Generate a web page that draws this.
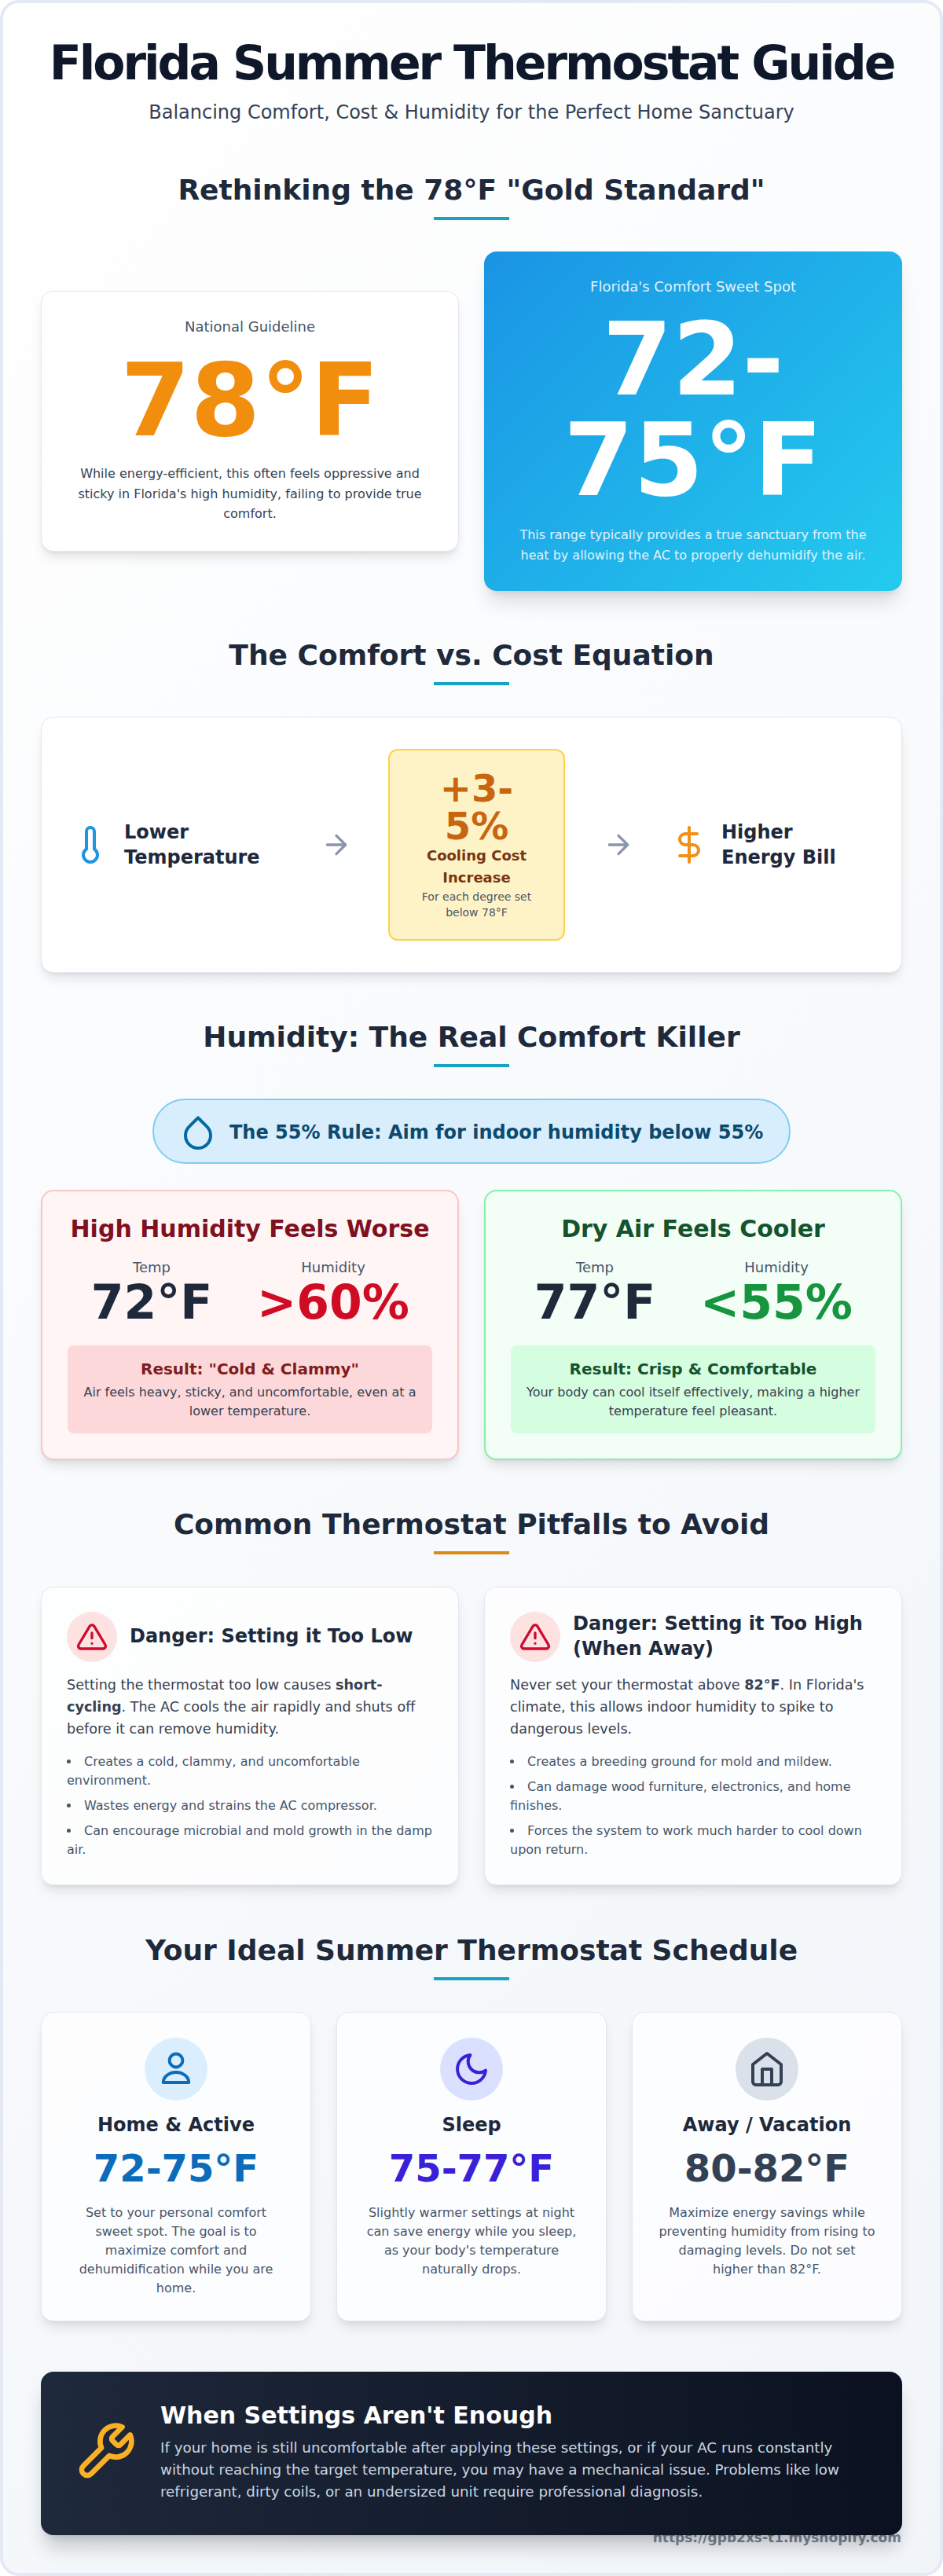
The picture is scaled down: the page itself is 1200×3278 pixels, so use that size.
<!DOCTYPE html>
<html lang="en">
<head>
<meta charset="utf-8">
<title>Florida Summer Thermostat Guide</title>
<script src="https://cdn.jsdelivr.net/npm/chart.js@4"></script>
<style>
	html, body { margin: 0; padding: 0; }
	body { position: relative; width: 1200px; height: 3278px; overflow: hidden; background: #fff; font-family: "DejaVu Sans", sans-serif; color: #1e293b; }
	#page { position: absolute; left: 0; top: 0; width: 1200px; height: 3278px; box-sizing: border-box; border: 4px solid #e3eaf4; border-radius: 24px; background: linear-gradient(135deg, #ffffff 0%, #f1f5f9 100%); }
	.abs { position: absolute; box-sizing: border-box; }
	h1, h2, h3, h4, p, ul { margin: 0; padding: 0; }
	h1 { position: absolute; left: 0; width: 1200px; top: 44px; text-align: center; font-size: 60px; line-height: 72px; letter-spacing: -3px; color: #0f172a; }
	.sub { position: absolute; left: 0; width: 1200px; top: 128px; text-align: center; font-size: 24px; line-height: 30px; color: #334155; }
	.h2 { position: absolute; left: 0; width: 1200px; text-align: center; font-size: 36px; line-height: 44px; font-weight: bold; color: #1e293b; }
	.bar { position: absolute; left: 552px; width: 96px; height: 4px; background: #16a3c4; }
	.card { position: absolute; box-sizing: border-box; background: rgba(255,255,255,.7); border: 1px solid #e2e8f0; border-radius: 16px; box-shadow: 0 10px 15px -3px rgba(0,0,0,.1), 0 4px 6px -4px rgba(0,0,0,.1); }
	.ctr { text-align: center; }
	svg { position: absolute; fill: none; stroke-width: 2; stroke-linecap: round; stroke-linejoin: round; }
	.label { font-size: 18px; line-height: 28px; }
	.huge { font-size: 128px; line-height: 128px; font-weight: bold; }
	.body16 { font-size: 16px; line-height: 25.6px; }
	.eq { font-size: 24px; line-height: 32px; font-weight: bold; position: absolute; }
	.stat { position: absolute; width: 232px; text-align: center; }
	.stat .t { font-size: 18px; line-height: 28px; color: #475569; }
	.stat .v { font-size: 60px; line-height: 60px; font-weight: bold; }
	.res { position: absolute; left: 32px; top: 196px; width: 464px; height: 112px; border-radius: 8px; text-align: center; padding-top: 16px; box-sizing: border-box; }
	.res h4 { font-size: 20px; line-height: 28px; margin-bottom: 4px; }
	.res p { font-size: 16px; line-height: 24px; color: #374151; }
	.circle { position: absolute; border-radius: 50%; }
	.pit h3 { position: absolute; left: 112px; font-size: 24px; line-height: 32px; color: #1e293b; width: 390px; }
	.pit p { position: absolute; left: 32px; top: 110px; width: 470px; font-size: 17.6px; line-height: 28px; color: #374151; }
	.pit ul { position: absolute; left: 32px; top: 210px; width: 470px; list-style: inside disc; font-size: 16px; line-height: 24px; color: #475569; }
	.pit li { margin-bottom: 8px; }
	.sch h3 { position: absolute; left: 0; width: 342px; top: 127px; text-align: center; font-size: 24px; line-height: 32px; }
	.sch .v { position: absolute; left: 0; width: 342px; top: 174px; text-align: center; font-size: 48px; line-height: 48px; font-weight: bold; }
	.sch p { position: absolute; left: 32px; width: 278px; top: 243px; text-align: center; font-size: 16px; line-height: 24px; color: #475569; }
</style>
</head>
<body>
<div id="page"></div>
<div id="root"></div>
<script>
	'use strict';

	// The reference is a text infographic with no plotted marks, so Chart.js is
	// loaded but no Chart instance is created; the page is built from these lists.

	/* ---------- Data ---------- */

	var TITLE = 'Florida Summer Thermostat Guide';
	var SUBTITLE = 'Balancing Comfort, Cost & Humidity for the Perfect Home Sanctuary';
	var SECTIONS = ['Rethinking the 78°F "Gold Standard"', 'The Comfort vs. Cost Equation', 'Humidity: The Real Comfort Killer', 'Common Thermostat Pitfalls to Avoid', 'Your Ideal Summer Thermostat Schedule'];
	var SECTION_TOPS = [220, 812, 1298, 1918, 2460];
	var BAR_TOPS = [276, 868, 1354, 1974, 2516];
	var BAR_COLORS = ['#16a3c4', '#16a3c4', '#16a3c4', '#dd8a14', '#16a3c4'];

	var COMPARE_LABELS = ['National Guideline', "Florida's Comfort Sweet Spot"];
	var COMPARE_VALUES = ['78°F', '72-75°F'];
	var COMPARE_TEXT = [
		"While energy-efficient, this often feels oppressive and sticky in Florida's high humidity, failing to provide true comfort.",
		'This range typically provides a true sanctuary from the heat by allowing the AC to properly dehumidify the air.',
	];

	var EQ_LEFT = ['Lower', 'Temperature'];
	var EQ_RIGHT = ['Higher', 'Energy Bill'];
	var EQ_VALUE = '+3-5%';
	var EQ_LABEL = 'Cooling Cost Increase';
	var EQ_NOTE = 'For each degree set below 78°F';

	var RULE = 'The 55% Rule: Aim for indoor humidity below 55%';
	var HUM_TITLES = ['High Humidity Feels Worse', 'Dry Air Feels Cooler'];
	var HUM_TEMPS = ['72°F', '77°F'];
	var HUM_LEVELS = ['>60%', '<55%'];
	var HUM_RESULTS = ['Result: "Cold & Clammy"', 'Result: Crisp & Comfortable'];
	var HUM_NOTES = ['Air feels heavy, sticky, and uncomfortable, even at a lower temperature.', 'Your body can cool itself effectively, making a higher temperature feel pleasant.'];

	var PIT_TITLES = ['Danger: Setting it Too Low', 'Danger: Setting it Too High (When Away)'];
	var PIT_TEXT = [
		'Setting the thermostat too low causes <b>short-cycling</b>. The AC cools the air rapidly and shuts off before it can remove humidity.',
		"Never set your thermostat above <b>82°F</b>. In Florida's climate, this allows indoor humidity to spike to dangerous levels.",
	];
	var PIT_LIST_LOW = ['Creates a cold, clammy, and uncomfortable environment.', 'Wastes energy and strains the AC compressor.', 'Can encourage microbial and mold growth in the damp air.'];
	var PIT_LIST_HIGH = ['Creates a breeding ground for mold and mildew.', 'Can damage wood furniture, electronics, and home finishes.', 'Forces the system to work much harder to cool down upon return.'];

	var SCHED_NAMES = ['Home & Active', 'Sleep', 'Away / Vacation'];
	var SCHED_TEMPS = ['72-75°F', '75-77°F', '80-82°F'];
	var SCHED_TEXT = [
		'Set to your personal comfort sweet spot. The goal is to maximize comfort and dehumidification while you are home.',
		"Slightly warmer settings at night can save energy while you sleep, as your body's temperature naturally drops.",
		'Maximize energy savings while preventing humidity from rising to damaging levels. Do not set higher than 82°F.',
	];

	var HELP_TITLE = "When Settings Aren't Enough";
	var HELP_TEXT = 'If your home is still uncomfortable after applying these settings, or if your AC runs constantly without reaching the target temperature, you may have a mechanical issue. Problems like low refrigerant, dirty coils, or an undersized unit require professional diagnosis.';
	var SOURCE_URL = 'https://gpb2xs-t1.myshopify.com';

	/* ---------- Icons ---------- */

	var ICONS = {
		thermo: '<path d="M14 14.76V3.5a2.5 2.5 0 0 0-5 0v11.26a4.5 4.5 0 1 0 5 0z"/>',
		arrow: '<path d="M5 12h14M12 5l7 7-7 7"/>',
		dollar: '<path d="M12 1v22M17 5H9.5a3.5 3.5 0 0 0 0 7h5a3.5 3.5 0 0 1 0 7H6"/>',
		drop: '<path d="M12 2.69l5.66 5.66a8 8 0 1 1-11.31 0z"/>',
		alert: '<path d="M10.29 3.86L1.82 18a2 2 0 0 0 1.71 3h16.94a2 2 0 0 0 1.71-3L13.71 3.86a2 2 0 0 0-3.42 0zM12 9v4M12 17h.01"/>',
		user: '<circle cx="12" cy="6.5" r="4.2"/><path d="M3.9 20.5a8.1 6.5 0 0 1 16.2 0z"/>',
		moon: '<path d="M21 12.79A9 9 0 1 1 11.21 3 7 7 0 0 0 21 12.79z"/>',
		home: '<path d="M3 9l9-7 9 7v11a2 2 0 0 1-2 2H5a2 2 0 0 1-2-2zM9 22V12h6v10"/>',
		tool: '<path d="M14.7 6.3a1 1 0 0 0 0 1.4l1.6 1.6a1 1 0 0 0 1.4 0l3.77-3.77a6 6 0 0 1-7.94 7.94l-6.91 6.91a2.12 2.12 0 0 1-3-3l6.91-6.91a6 6 0 0 1 7.94-7.94l-3.76 3.76z"/>',
	};

	function icon(name, x, y, size, color) {
		return '<svg style="left:' + x + 'px;top:' + y + 'px" width="' + size + '" height="' + size + '" viewBox="0 0 24 24" stroke="' + color + '">' + ICONS[name] + '</svg>';
	}

	function esc(s) {
		return s.replace(/&/g, '&amp;').replace(/</g, '&lt;').replace(/>/g, '&gt;');
	}

	/* ---------- Sections ---------- */

	function head() {
		var html = '<h1>' + TITLE + '</h1><div class="sub">' + esc(SUBTITLE) + '</div>';
		SECTIONS.forEach(function (s, i) {
			html += '<div class="h2" style="top:' + SECTION_TOPS[i] + 'px">' + s + '</div>';
			html += '<div class="bar" style="top:' + BAR_TOPS[i] + 'px;background:' + BAR_COLORS[i] + '"></div>';
		});
		return html;
	}

	function compare() {
		return '<div class="card ctr" style="left:52px;top:370px;width:532px;height:332px;background:#fff">' +
			'<div class="abs label" style="left:0;width:530px;top:31px;color:#475569">' + COMPARE_LABELS[0] + '</div>' +
			'<div class="abs huge" style="left:0;width:530px;top:75px;color:#f28e0e">' + COMPARE_VALUES[0] + '</div>' +
			'<div class="abs body16" style="left:32px;width:466px;top:219px;color:#374151">' + COMPARE_TEXT[0] + '</div></div>' +
			'<div class="card ctr" style="left:616px;top:320px;width:532px;height:432px;border:0;background:linear-gradient(135deg,#1a94e4,#24cbee);box-shadow:0 20px 25px -5px rgba(0,0,0,.12),0 8px 10px -6px rgba(0,0,0,.1)">' +
			'<div class="abs label" style="left:0;width:532px;top:31px;color:#e0f2fe">' + COMPARE_LABELS[1] + '</div>' +
			'<div class="abs huge" style="left:32px;width:468px;top:74px;color:#fff">' + COMPARE_VALUES[1] + '</div>' +
			'<div class="abs body16" style="left:32px;width:468px;top:348px;color:#e0f2fe">' + COMPARE_TEXT[1] + '</div></div>';
	}

	function equation() {
		return '<div class="card" style="left:52px;top:912px;width:1096px;height:326px;background:#fff"></div>' +
			icon('thermo', 92, 1051, 48, '#1c96e3') +
			'<div class="eq" style="left:158px;top:1043px">' + EQ_LEFT.join('<br>') + '</div>' +
			icon('arrow', 408, 1055, 40, '#8a94ad') +
			'<div class="abs ctr" style="left:494px;top:953px;width:225px;height:244px;background:#fef3c7;border:2px solid #fcd34d;border-radius:12px;padding:24px 26px 0">' +
			'<div style="font-size:48px;line-height:48px;font-weight:bold;color:#c9640f">' + EQ_VALUE + '</div>' +
			'<div style="font-size:18px;line-height:28px;font-weight:bold;color:#78350f">' + EQ_LABEL + '</div>' +
			'<div style="font-size:14px;line-height:20px;color:#4b5563">' + EQ_NOTE + '</div></div>' +
			icon('arrow', 767, 1055, 40, '#8a94ad') +
			icon('dollar', 853, 1051, 48, '#f28f16') +
			'<div class="eq" style="left:918px;top:1043px">' + EQ_RIGHT.join('<br>') + '</div>';
	}

	function rule() {
		return '<div class="abs" style="left:194px;top:1398px;width:812px;height:83px;background:#d9eefc;border:2px solid #7dcdf5;border-radius:42px"></div>' +
			icon('drop', 228, 1417, 48, '#0369a1') +
			'<div class="abs" style="left:292px;top:1422px;font-size:24px;line-height:38px;font-weight:bold;color:#0c4a6e">' + esc(RULE) + '</div>';
	}

	function humidity() {
		var boxes = [
			{ left: 52, bg: '#fff5f5', border: '#f9c5c8', head: '#7f1020', val: '#d00c24', rbg: '#fdd8da', rhead: '#7f1d1d' },
			{ left: 616, bg: '#f3fef6', border: '#86efac', head: '#14532d', val: '#16943e', rbg: '#d5fde0', rhead: '#14532d' },
		];
		var html = '';
		boxes.forEach(function (b, i) {
			html += '<div class="card" style="left:' + b.left + 'px;top:1514px;width:532px;height:344px;background:' + b.bg + ';border:2px solid ' + b.border + '">' +
				'<div class="abs ctr" style="left:0;width:528px;top:28px;font-size:30px;line-height:40px;font-weight:bold;color:' + b.head + '">' + HUM_TITLES[i] + '</div>' +
				'<div class="stat" style="left:23px;top:83px"><div class="t">Temp</div><div class="v">' + HUM_TEMPS[i] + '</div></div>' +
				'<div class="stat" style="left:254px;top:83px"><div class="t">Humidity</div><div class="v" style="color:' + b.val + '">' + esc(HUM_LEVELS[i]) + '</div></div>' +
				'<div class="res" style="background:' + b.rbg + '"><h4 style="color:' + b.rhead + '">' + esc(HUM_RESULTS[i]) + '</h4><p>' + HUM_NOTES[i] + '</p></div></div>';
		});
		return html;
	}

	function pitfalls() {
		var lists = [PIT_LIST_LOW, PIT_LIST_HIGH];
		var lefts = [52, 616];
		var tops = [46, 30];
		var html = '';
		lists.forEach(function (list, i) {
			html += '<div class="card pit" style="left:' + lefts[i] + 'px;top:2019px;width:532px;height:380px">' +
				'<div class="circle" style="left:32px;top:31px;width:64px;height:64px;background:#fee2e2"></div>' +
				icon('alert', 44, 43, 40, '#cf0a2c') +
				'<h3 style="top:' + tops[i] + 'px">' + PIT_TITLES[i] + '</h3>' +
				'<p>' + PIT_TEXT[i] + '</p><ul>' + list.map(function (t) { return '<li>' + t + '</li>'; }).join('') + '</ul></div>';
		});
		return html;
	}

	function schedule() {
		var lefts = [52, 428, 804];
		var circles = ['#dbeefd', '#dae0ff', '#dbe1ea'];
		var colors = ['#0a6cba', '#3a20d8', '#334155'];
		var names = ['user', 'moon', 'home'];
		var html = '';
		SCHED_NAMES.forEach(function (name, i) {
			html += '<div class="card sch" style="left:' + lefts[i] + 'px;top:2560px;width:344px;height:394px">' +
				'<div class="circle" style="left:131px;top:32px;width:80px;height:80px;background:' + circles[i] + '"></div>' +
				icon(names[i], 147, 48, 48, colors[i]) +
				'<h3>' + esc(name) + '</h3><div class="v" style="color:' + colors[i] + '">' + SCHED_TEMPS[i] + '</div><p>' + SCHED_TEXT[i] + '</p></div>';
		});
		return html;
	}

	function help() {
		return '<div class="abs" style="left:800px;top:3217px;width:347px;text-align:right;font-size:17px;line-height:24px;font-weight:bold;color:#7b8798">' + SOURCE_URL + '</div>' +
			'<div class="abs" style="left:52px;top:3018px;width:1096px;height:208px;border-radius:16px;background:linear-gradient(90deg,#1e293b,#0b1120);box-shadow:0 20px 25px -5px rgba(0,0,0,.2),0 8px 10px -6px rgba(0,0,0,.1)">' +
			icon('tool', 42, 62, 80, '#fbb024') +
			'<div class="abs" style="left:152px;top:36px;font-size:30px;line-height:40px;font-weight:bold;color:#fff">' + HELP_TITLE + '</div>' +
			'<div class="abs" style="left:152px;top:83px;width:900px;font-size:18.3px;line-height:28px;color:#cbd5e1">' + HELP_TEXT + '</div></div>';
	}

	document.getElementById('root').innerHTML = head() + compare() + equation() + rule() + humidity() + pitfalls() + schedule() + help();
</script>
</body>
</html>
